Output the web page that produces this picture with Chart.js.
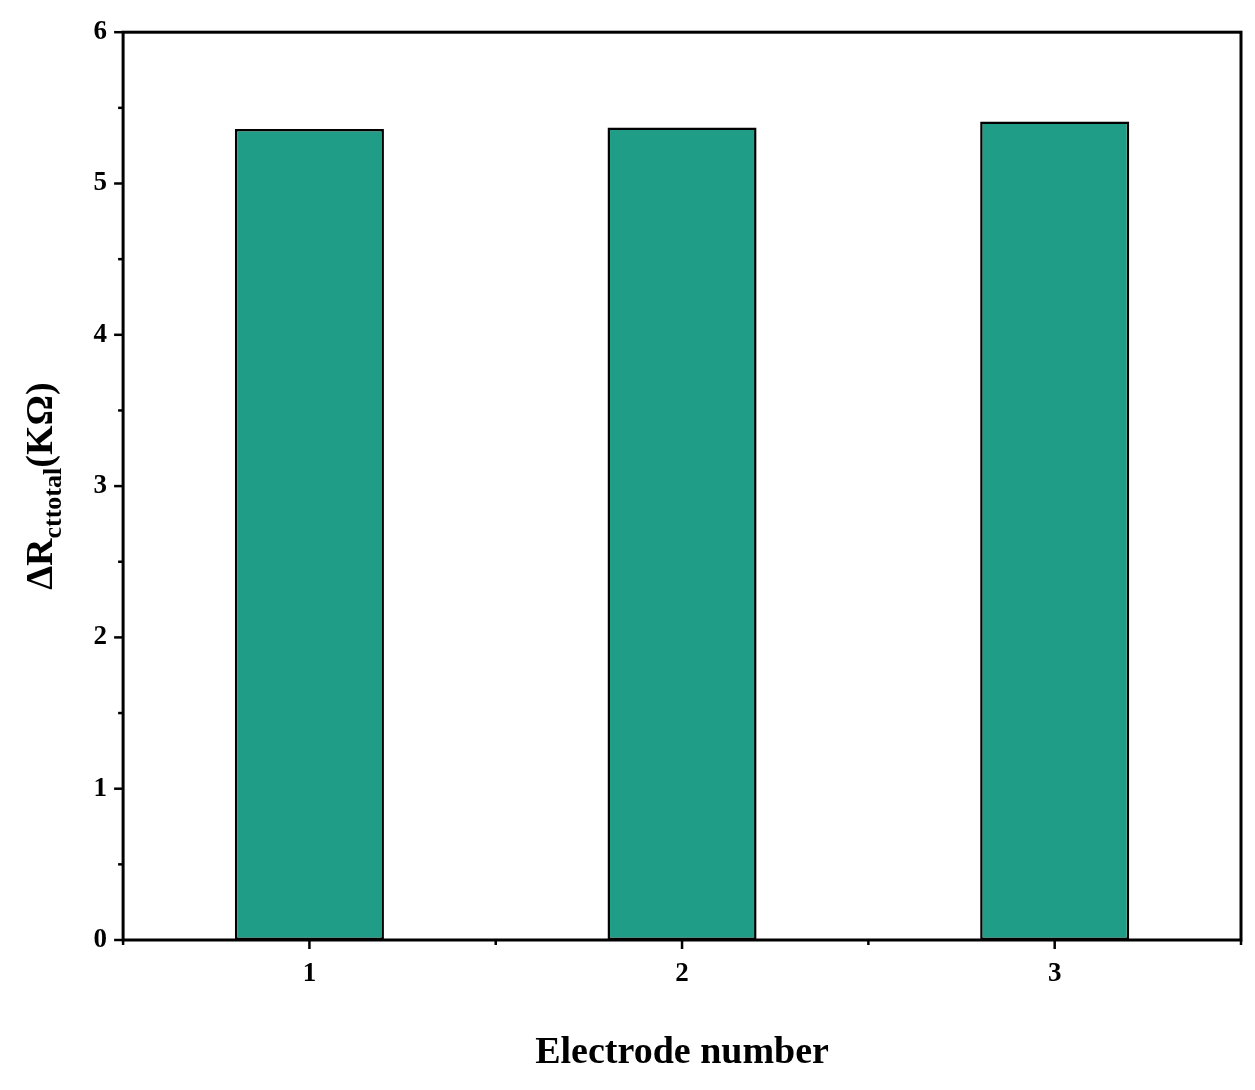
<!DOCTYPE html>
<html><head><meta charset="utf-8">
<script src="https://cdn.jsdelivr.net/npm/chart.js@4"></script>
<style>html,body{margin:0;background:#fff}#w{width:1255px;height:1090px}</style>
</head><body><div id="w"><canvas id="c"></canvas></div>
<script>
const categories = ["1", "2", "3"];
const values = [5.36, 5.37, 5.41];
const yTicks = [0, 1, 2, 3, 4, 5, 6];
const yTitleMain = "ΔR", yTitleSub = "cttotal", yTitleEnd = "(KΩ)";
const xTitle = "Electrode number";
const F = "'Liberation Serif', 'Times New Roman', serif";

const deco = {
  id: 'deco',
  afterDraw(ch) {
    const ctx = ch.ctx, a = ch.chartArea, x = ch.scales.x, y = ch.scales.y;
    ctx.save();
    ctx.strokeStyle = '#000'; ctx.lineWidth = 3;
    ctx.strokeRect(a.left, a.top, a.right - a.left, a.bottom - a.top);
    ctx.lineWidth = 2.5;
    // y ticks
    for (let v = 0; v <= 6.001; v += 0.5) {
      const p = y.getPixelForValue(v), L = Math.abs(v % 1) < 1e-6 ? 9 : 5;
      ctx.beginPath(); ctx.moveTo(a.left, p); ctx.lineTo(a.left - L, p); ctx.stroke();
    }
    // x ticks
    for (let i = -0.5; i <= categories.length - 0.5 + 1e-6; i += 0.5) {
      const p = x.getPixelForValue(i), L = Math.abs(i % 1) < 1e-6 ? 9 : 5;
      ctx.beginPath(); ctx.moveTo(p, a.bottom); ctx.lineTo(p, a.bottom + L); ctx.stroke();
    }
    // y title
    ctx.fillStyle = '#000'; ctx.textBaseline = 'alphabetic';
    ctx.translate(52, (a.top + a.bottom) / 2); ctx.rotate(-Math.PI / 2);
    const f1 = 'bold 38px ' + F, f2 = 'bold 26px ' + F;
    ctx.font = f1; const w1 = ctx.measureText(yTitleMain).width, w3 = ctx.measureText(yTitleEnd).width;
    ctx.font = f2; const w2 = ctx.measureText(yTitleSub).width;
    let sx = -(w1 + w2 + w3) / 2;
    ctx.font = f1; ctx.fillText(yTitleMain, sx, 0); sx += w1;
    ctx.font = f2; ctx.fillText(yTitleSub, sx, 9); sx += w2;
    ctx.font = f1; ctx.fillText(yTitleEnd, sx, 0);
    ctx.restore();
  }
};

new Chart(document.getElementById('c'), {
  type: 'bar',
  data: { labels: categories, datasets: [{ data: values, backgroundColor: '#209d87', borderColor: '#000', borderWidth: 2.5, borderSkipped: false, barPercentage: 0.4, categoryPercentage: 1 }] },
  options: {
    responsive: true, maintainAspectRatio: false, animation: false,
    layout: { padding: { left: 14, right: 14, top: 22, bottom: 10 } },
    plugins: { legend: { display: false }, tooltip: { enabled: false } },
    scales: {
      x: { grid: { display: false, drawTicks: false }, border: { display: false },
        ticks: { padding: 18, color: '#000', font: { family: F, size: 27, weight: 'bold' } },
        title: { display: true, text: xTitle, color: '#000', font: { family: F, size: 38, weight: 'bold' }, padding: { top: 22 } } },
      y: { min: 0, max: 6, afterBuildTicks: s => { s.ticks = yTicks.map(v => ({ value: v })); },
        grid: { display: false, drawTicks: false }, border: { display: false },
        ticks: { padding: 16, color: '#000', font: { family: F, size: 27, weight: 'bold' } },
        title: { display: true, text: ' ', font: { size: 38 }, padding: { bottom: 14 } } }
    }
  },
  plugins: [deco]
});
</script></body></html>
